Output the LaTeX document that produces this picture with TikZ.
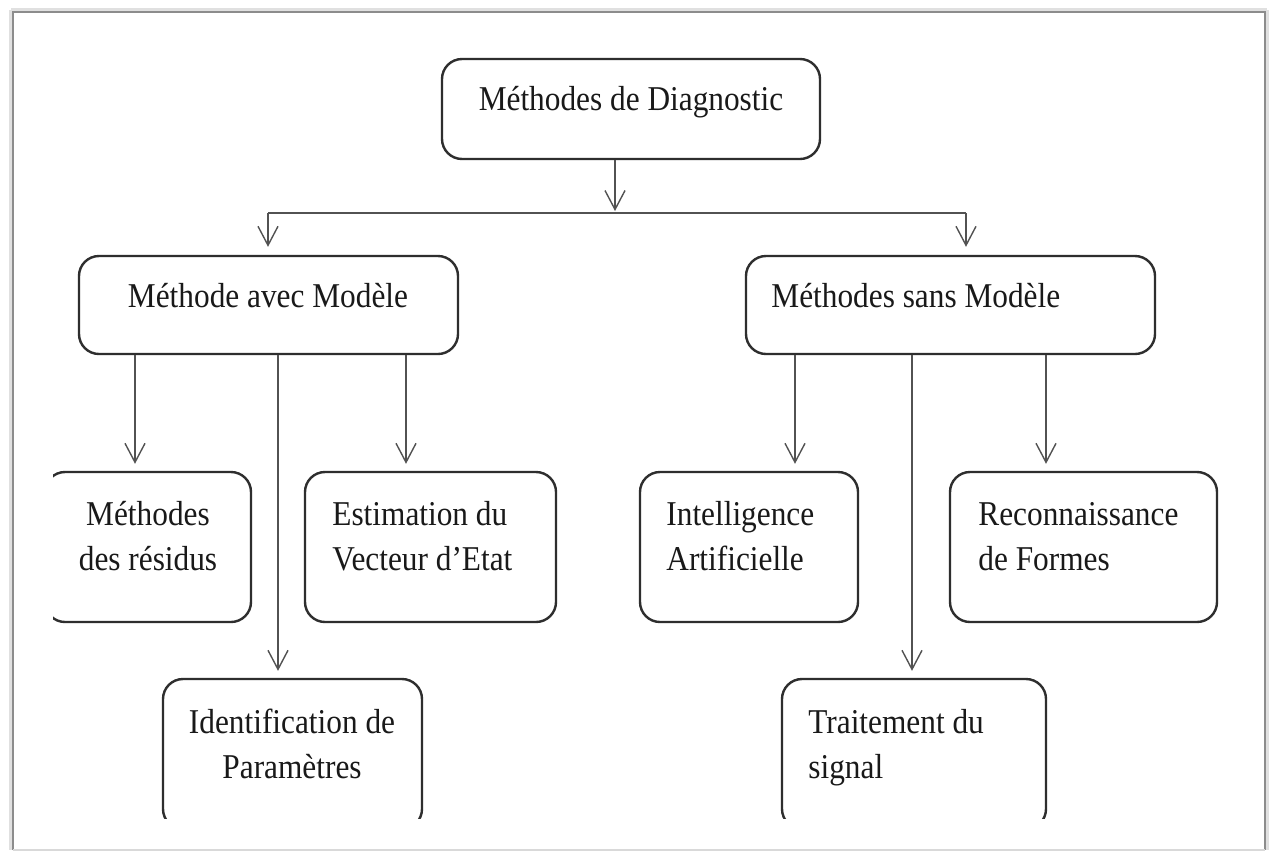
\documentclass[tikz,border=0pt]{standalone}
\usepackage{fontspec}
\setmainfont{Liberation Serif}[FakeStretch=0.9]
\usetikzlibrary{arrows.meta}
\begin{document}
\begin{tikzpicture}[x=0.5pt,y=-0.5pt,
  mbox/.style={draw=black!82, line width=1.2pt, rounded corners=10pt, inner sep=0pt},
  lbl/.style={inner sep=0pt, text=black!90, font=\fontsize{17.4}{22.5}\selectfont},
  conn/.style={draw=black!68, line width=0.7pt, -{Straight Barb[length=9.5pt,width=10pt,line width=0.7pt]}, shorten >=3.5pt}]
\useasboundingbox (0,0) rectangle (1272,852);
\fill[white] (0,0) rectangle (1272,852);
% page frame with a soft shadow
\draw[black!12, line width=2pt] (11,10) -- (1267,10);
\draw[black!12, line width=2pt] (11,10) -- (11,850);
\draw[black!12, line width=2pt] (1267,10) -- (1267,850);
\draw[black!45, line width=0.9pt] (13,850) -- (13,12) -- (1265,12) -- (1265,850);
\draw[black!15, line width=1pt] (13,850) -- (1265,850);

% top level
\node[mbox, minimum width=189pt, minimum height=50pt] (diag) at (631,109) {};
\node[lbl, anchor=base] (diagt) at (631,110) {Méthodes de Diagnostic};

% second level
\node[mbox, minimum width=189.5pt, minimum height=49pt] (avec) at (268.5,305) {};
\node[lbl, anchor=base] (avect) at (268,307) {Méthode avec Modèle};
\node[mbox, minimum width=204.5pt, minimum height=49pt] (sans) at (950.5,305) {};
\node[lbl, anchor=base west] (sanst) at (771,307) {Méthodes sans Modèle};

% third level (page edges cut some boxes); base anchors sit on the second line
\begin{scope}
\clip (53,12) rectangle (1265,818);
\node[mbox, minimum width=103pt, minimum height=75pt] (resid) at (148,547) {};
\node[lbl, anchor=base, align=center] (residt) at (148,570) {Méthodes\\des résidus};
\node[mbox, minimum width=125.5pt, minimum height=75pt] (estim) at (430.5,547) {};
\node[lbl, anchor=base west, align=left] (estimt) at (332,570) {Estimation du\\Vecteur d’Etat};
\node[mbox, minimum width=109pt, minimum height=75pt] (intel) at (749,547) {};
\node[lbl, anchor=base west, align=left] (intelt) at (666,570) {Intelligence\\Artificielle};
\node[mbox, minimum width=133.5pt, minimum height=75pt] (recon) at (1083.5,547) {};
\node[lbl, anchor=base west, align=left] (recont) at (978,570) {Reconnaissance\\de Formes};
\node[mbox, minimum width=129.5pt, minimum height=75pt] (ident) at (292.5,754) {};
\node[lbl, anchor=base, align=center] (identt) at (292,778) {Identification de\\Paramètres};
\node[mbox, minimum width=132pt, minimum height=75pt] (trait) at (914,754) {};
\node[lbl, anchor=base west, align=left] (traitt) at (808,778) {Traitement du\\signal};
\end{scope}

% connector columns
\coordinate (xt) at (615,0);
\coordinate (xl) at (268,0);
\coordinate (xr) at (966,0);
\coordinate (ybar) at (0,213);
\coordinate (xa) at (135,0);
\coordinate (xb) at (278,0);
\coordinate (xc) at (406,0);
\coordinate (xd) at (795,0);
\coordinate (xe) at (912,0);
\coordinate (xf) at (1046,0);

\draw[conn, shorten >=1pt] (xt |- diag.south) -- (xt |- ybar);
\draw[conn, -, shorten >=0pt] (xl |- ybar) -- (xr |- ybar);
\draw[conn, shorten >=4pt] (xl |- ybar) -- (xl |- avec.north);
\draw[conn, shorten >=4pt] (xr |- ybar) -- (xr |- sans.north);

\draw[conn] (xa |- avec.south) -- (xa |- resid.north);
\draw[conn] (xb |- avec.south) -- (xb |- ident.north);
\draw[conn] (xc |- avec.south) -- (xc |- estim.north);
\draw[conn] (xd |- sans.south) -- (xd |- intel.north);
\draw[conn] (xe |- sans.south) -- (xe |- trait.north);
\draw[conn] (xf |- sans.south) -- (xf |- recon.north);
\end{tikzpicture}
\end{document}
